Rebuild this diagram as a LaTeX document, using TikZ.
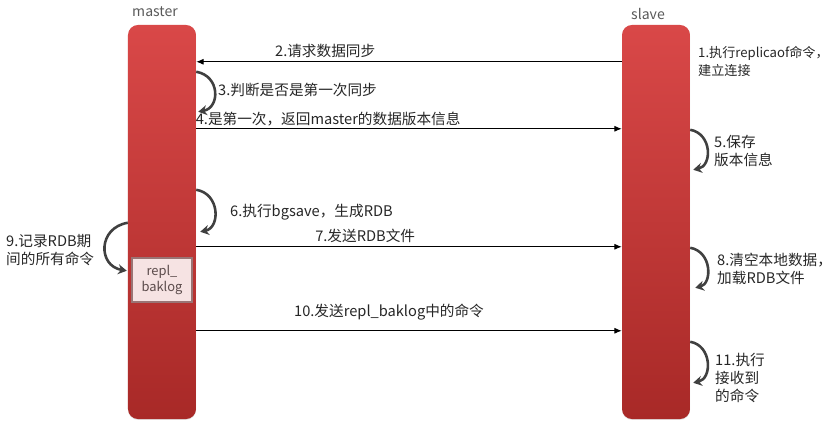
\documentclass[tikz,border=0pt]{standalone}
\usepackage{fontspec}
\setmainfont{Noto Sans CJK SC}
\usetikzlibrary{positioning,arrows.meta,calc,shadows}
\definecolor{barTop}{HTML}{D94848}
\definecolor{barBottom}{HTML}{A82927}
\definecolor{loopGrey}{HTML}{404040}
\definecolor{textGrey}{HTML}{262626}
\definecolor{titleGrey}{HTML}{595959}
\definecolor{bufferFill}{HTML}{F6E3E3}
\definecolor{bufferLine}{HTML}{9A7474}
\definecolor{bufferText}{HTML}{5B4B4B}
\tikzset{
    syncbar/.style={rounded corners=0.3cm, top color=barTop, bottom color=barBottom, minimum width=2.04cm, minimum height=11.82cm, inner sep=0pt, drop shadow={opacity=0.22, shadow xshift=0pt, shadow yshift=-0.8pt}},
    synctitle/.style={text=titleGrey, font=\fontsize{12}{14}\selectfont, inner sep=0pt},
    synclabel/.style={text=textGrey, font=\fontsize{12.5}{15.4}\selectfont, align=left, inner sep=0pt},
    syncarrow/.style={draw, line width=0.8pt, -{Latex[length=2.2mm,width=1.8mm]}},
    syncloop/.style={draw=loopGrey, line width=2.2pt, -{Stealth[length=2.6mm,width=3mm]}},
    syncbuffer/.style={draw=bufferLine, line width=1.2pt, fill=bufferFill, text=bufferText, font=\fontsize{11}{14}\selectfont, align=center, minimum width=1.8cm, minimum height=1.32cm, inner sep=0pt}
}
\begin{document}
\begin{tikzpicture}[x=0.03cm, y=-0.03cm]
    \useasboundingbox (0,0) rectangle (833,424);
    % the two servers
    \node[syncbar] (master) at (162,222) {};
    \node[syncbar] (slave) at (656,222) {};
    \node[synctitle] (mastertitle) at (155,12) {master};
    \node[synctitle] (slavetitle) at (648,14) {slave};
    \node[syncbuffer] (baklog) at (162,280) {repl\_\\baklog};

    % messages between master and slave
    \draw[syncarrow] ($(slave.north west)+(0,37)$) -- node[synclabel, pos=0.697, above=0.12cm] (lbl2) {2.请求数据同步} ($(master.north east)+(0,37)$);
    \draw[syncarrow] ($(master.north east)+(0,104)$) -- node[synclabel, pos=0.31, above=0.07cm] (lbl4) {4.是第一次，返回master的数据版本信息} ($(slave.north west)+(0,104)$);
    \draw[syncarrow] ($(master.north east)+(0,222)$) -- node[synclabel, pos=0.397, above=0.1cm] (lbl7) {7.发送RDB文件} ($(slave.north west)+(0,222)$);
    \draw[syncarrow] ($(master.north east)+(0,306)$) -- node[synclabel, pos=0.453, above=0.3cm] (lbl10) {10.发送repl\_baklog中的命令} ($(slave.north west)+(0,306)$);

    % self steps
    \draw[syncloop] ($(master.north east)+(0,47)$) .. controls +(24,4) and +(22,-4) .. ($(master.north east)+(2,87)$);
    \draw[syncloop] ($(master.north east)+(0,165)$) .. controls +(24,4) and +(20,-4) .. ($(master.north east)+(4,207)$);
    \draw[syncloop] ($(master.north west)+(0,198)$) .. controls +(-30,5) and +(-29,-5) .. ($(master.north west)+(-1,246)$);
    \draw[syncloop] ($(slave.north east)+(0,105)$) .. controls +(22,4) and +(19,-4) .. ($(slave.north east)+(3,145)$);
    \draw[syncloop] ($(slave.north east)+(0,223)$) .. controls +(22,4) and +(17,-4) .. ($(slave.north east)+(5,263)$);
    \draw[syncloop] ($(slave.north east)+(0,317)$) .. controls +(22,4) and +(19,-4) .. ($(slave.north east)+(3,358)$);

    \node[synclabel, anchor=west, font=\fontsize{11.2}{15.4}\selectfont] (lbl1) at (698,61) {1.执行replicaof命令，\\建立连接};
    \node[synclabel, anchor=west] (lbl3) at (218,90) {3.判断是否是第一次同步};
    \node[synclabel, anchor=west] (lbl5) at (714,151) {5.保存\\版本信息};
    \node[synclabel, anchor=west] (lbl6) at (230,212) {6.执行bgsave，生成RDB};
    \node[synclabel, anchor=west] (lbl8) at (717,269) {8.清空本地数据，\\加载RDB文件};
    \node[synclabel, anchor=west] (lbl9) at (6,250) {9.记录RDB期\\间的所有命令};
    \node[synclabel, anchor=west] (lbl11) at (715,378) {11.执行\\接收到\\的命令};
\end{tikzpicture}
\end{document}
